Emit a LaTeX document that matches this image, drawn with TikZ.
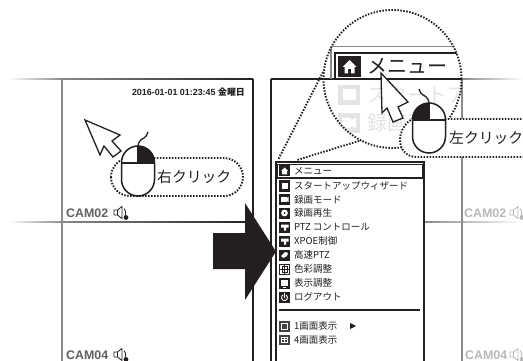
\documentclass[tikz,border=0pt]{standalone}
\usepackage{fontspec}
\newfontfamily\jp{Noto Sans CJK JP}
\newfontfamily\ar{Liberation Sans}
\usetikzlibrary{calc}
\definecolor{ink}{HTML}{231F20}
\definecolor{midgray}{HTML}{8A8A8A}
\definecolor{ghost}{HTML}{E4E4E4}
\tikzset{
  x=1pt,y=-1pt,
  dots/.style={line width=1.9pt,line cap=butt,dash pattern=on 1.5pt off 1.5pt,color=ink},
  frame/.style={line width=1.3pt,color=ink},
  gframe/.style={line width=1.5pt,color=midgray},
  rowtext/.style={font=\jp\fontsize{9.5}{10}\selectfont,anchor=west,inner sep=0pt,color=ink},
  camtext/.style={font=\ar\bfseries\fontsize{12.4}{12}\selectfont,anchor=west,inner sep=0pt},
  click/.style={font=\jp\fontsize{14.8}{15}\selectfont,anchor=west,inner sep=0pt,color=ink},
  cursor/.style={fill=white,draw=ink,line width=1.3pt,line join=miter},
  micon/.style={fill=ink,draw=none},
}
\newcommand{\speaker}[3]{% x y colour
  \begin{scope}[shift={(#1,#2)},draw=#3,line width=.8pt]
    \draw (0,-2.5) -- (3.5,-2.5) -- (8,-6) -- (8,6) -- (3.5,2.5) -- (0,2.5) -- cycle;
    \draw (3.5,-2.5) -- (3.5,2.5);
    \draw (10,-4) .. controls (12,-1) and (12,1) .. (11,4);
    \fill[#3] (12,5) circle (2.4);
  \end{scope}}
\newcommand{\mouseshape}[3]{% cx top mirror
  \begin{scope}[shift={(#1,#2)}]
    \path[fill=white,draw=none,rounded corners=16.5pt] (-16.5,0) rectangle (16.5,50);
    \begin{scope}[xscale=#3]
      \fill[ink] (0,0) .. controls (9,0) and (16.5,7) .. (16.5,17) -- (0,17) -- cycle;
      \draw[line width=1.3pt,color=ink] (0,0) -- (0,17) (-16.5,17) -- (16.5,17);
      \draw[line width=1.3pt,color=ink] (0,0) .. controls (1,-7) and (5,-7) .. (6,-8) .. controls (8,-9) and (9,-11) .. (10,-14);
    \end{scope}
    \draw[line width=1.5pt,color=ink,rounded corners=16.5pt] (-16.5,0) rectangle (16.5,50);
  \end{scope}}
\newcommand{\iconbox}[1]{\fill[micon] (279,#1-5.5) rectangle (290,#1+5.5);}
\begin{document}
\begin{tikzpicture}
\useasboundingbox (0,0) rectangle (523,361);
\clip (0,0) rectangle (523,361);
\fill[white] (0,0) rectangle (523,361);

% fading stubs
\shade[left color=white,right color=midgray] (8,78.3) rectangle (62,79.7);
\shade[left color=white,right color=midgray] (8,221.3) rectangle (62,222.7);
\shade[left color=midgray,right color=ink] (62,78.3) rectangle (253,79.7);
\shade[left color=midgray,right color=ink] (62,221.3) rectangle (253,222.7);
\shade[left color=midgray,right color=white] (462,78.3) rectangle (523,79.7);
\shade[left color=midgray,right color=white] (424,221.3) rectangle (523,222.7);

% panel frames
\coordinate (la) at (62,79); \coordinate (lb) at (62,361);
\coordinate (ra) at (253,79); \coordinate (rb) at (253,361);
\coordinate (sa) at (271,79); \coordinate (sb) at (271,361);
\coordinate (sc) at (462,79); \coordinate (sd) at (462,361);
\draw[gframe] (la) -- (lb);
\draw[frame] (ra) -- (rb);
\draw[frame] (sa) -- (sb);
\draw[frame] (sa) -- (sc);
\draw[gframe] (sc) -- (sd);

% left panel texts
\node[font=\ar\bfseries\fontsize{8.9}{9}\selectfont,anchor=east,inner sep=0pt,color=ink] (stamp) at (245,92) {2016-01-01 01:23:45 {\jp\bfseries 金曜日}};
\node[camtext,color=black!62] (cam2) at (66,213.5) {CAM02};
\speaker{114}{212.5}{ink}
\node[camtext,color=black!62] (cam4) at (66,355.5) {CAM04};
\speaker{114}{354.5}{ink}
\node[camtext,color=black!28] (cam2r) at (464,213.5) {CAM02};
\speaker{510}{212.5}{black!28}
\node[camtext,color=black!28] (cam4r) at (465,355.5) {CAM04};
\speaker{510}{354.5}{black!28}

% right click
\draw[cursor] (85,120) -- (120,135) -- (112,141) -- (121,151) -- (113,157) -- (104,146) -- (100,155) -- cycle;
\draw[dots,fill=white,rounded corners=19pt] (111,158) rectangle (243,196);
\mouseshape{138}{146}{1}
\node[click] (rc) at (157,177) {右クリック};

% big arrow
\fill[ink] (213,233) -- (245,233) -- (245,203) -- (276,251.5) -- (245,300) -- (245,269) -- (213,269) -- cycle;
\draw[frame] (271,240) -- (271,361);

% menu
\coordinate (ma) at (276,162); \coordinate (mb) at (424,361);
\fill[white] (ma) rectangle (mb);
\draw[frame] (276,361) -- (276,162) -- (424,162) -- (424,361);
\draw[line width=1.5pt,color=ink,fill=white] (277.5,164.5) rectangle (423,178);
\foreach \yy/\tt in {171/メニュー,186/スタートアップウィザード,199.5/録画モード,213/録画再生,227/PTZ コントロール,241/XPOE制御,255/高速PTZ,269/色彩調整,283/表示調整,297/ログアウト,326/1画面表示,339.5/4画面表示}{
  \node[rowtext] at (294,\yy) {\tt};
}
% menu icons
\iconbox{171} \fill[white] (284.5,167.5) -- (288,171) -- (287,171) -- (287,174.5) -- (282,174.5) -- (282,171) -- (281,171) -- cycle;
\iconbox{186} \fill[white] (281.5,183) rectangle (287.5,189);
\iconbox{199.5} \fill[white] (281,197) rectangle (286.5,202); \fill[white] (286.5,198) -- (288.5,197) -- (288.5,202) -- (286.5,201) -- cycle;
\iconbox{213} \fill[white] (284.5,213) circle (3.4); \fill[ink] (284.5,213) circle (1);
\iconbox{227} \fill[white] (281,224.5) -- (288.5,224.5) -- (288.5,227.5) -- (286,227.5) -- (286,230.5) -- (284,230.5) -- (284,227.5) -- (281,227.5) -- cycle;
\iconbox{241} \fill[white] (281,238.5) -- (288.5,238.5) -- (288.5,241.5) -- (286,241.5) -- (286,244.5) -- (284,244.5) -- (284,241.5) -- (281,241.5) -- cycle;
\iconbox{255} \fill[white] (281,256) -- (285,252) -- (288,253) -- (287,256) -- (283,258) -- cycle;
\draw[line width=.7pt,color=ink] (279.5,264) rectangle (289.5,274) (282,266) rectangle (287,272) (284.5,264) -- (284.5,274) (279.5,269) -- (289.5,269);
\iconbox{283} \fill[white] (281,280) rectangle (288,285.5); \fill[white] (283,286.5) rectangle (286,287);
\iconbox{297} \draw[white,line width=.9pt] (286,295) arc (300:600:3); \draw[white,line width=.9pt] (284.5,293) -- (284.5,297.5);
\draw[line width=1.3pt,color=ink] (279,310) -- (420,310);
\fill[ink!85] (279,321) rectangle (290,332); \draw[white,line width=.8pt] (281.5,323.5) rectangle (287.5,329.5);
\fill[ink!85] (279,334.5) rectangle (290,345); \draw[white,line width=.5pt] (281.5,337) rectangle (287.5,342.5) (284.5,337) -- (284.5,342.5) (281.5,339.7) -- (287.5,339.7);
\fill[ink] (350,323) -- (356,326) -- (350,329) -- cycle;

% zoom lens
\coordinate (lc) at (392.5,79);
\draw[dots] (323,72) -- (278,160);
\draw[dots] (362,140) -- (297,160);
\fill[white] (lc) circle (69);
\begin{scope}
  \clip (lc) circle (69);
  \draw[line width=1pt,color=midgray] (331,47) -- (452,47);
  \draw[gframe] (462,79) -- (462,118);
  \draw[frame] (324,79) -- (335,79);
  \draw[frame] (465,53) -- (335,53) -- (335,79) -- (465,79);
  \draw[gframe] (331,47) -- (331,79);
  \fill[ink] (338,56) rectangle (361,77);
  \fill[white] (349.5,60) -- (356.5,67) -- (354.5,67) -- (354.5,73.5) -- (351,73.5) -- (351,69) -- (348,69) -- (348,73.5) -- (344.5,73.5) -- (344.5,67) -- (342.5,67) -- cycle;
  \fill[ghost] (338,85) rectangle (360,105); \fill[white] (342.5,89.5) rectangle (355.5,100.5);
  \fill[ghost] (338,113) rectangle (360,133); \fill[white] (342,118) rectangle (351,128) (351,120) -- (356,118) -- (356,128) -- (351,126) -- cycle;
  \node[font=\jp\fontsize{20}{20}\selectfont,anchor=west,inner sep=0pt,color=ghost] (g1) at (367,95) {スタートアップ};
  \node[font=\jp\fontsize{20}{20}\selectfont,anchor=west,inner sep=0pt,color=ghost] (g2) at (367,123) {録画再生};
\end{scope}
\node[font=\jp\fontsize{20}{20}\selectfont,anchor=west,inner sep=0pt,color=ink] (mtitle) at (367.5,66) {メニュー};
\draw[dots] (lc) circle (69);
\draw[cursor] (381,73) -- (408,102) -- (398,107) -- (403,118) -- (393,122) -- (387,108) -- (382,113) -- cycle;

% left click pill
\draw[dots,fill=white] (530,157) -- (417,157) .. controls (406,157) and (400,149) .. (400,140) .. controls (400,132) and (404,126) .. (408,122) -- (412,119) -- (530,119);
\mouseshape{429}{103}{-1}
\node[click] (lclick) at (449,138) {左クリック};
\end{tikzpicture}
\end{document}
